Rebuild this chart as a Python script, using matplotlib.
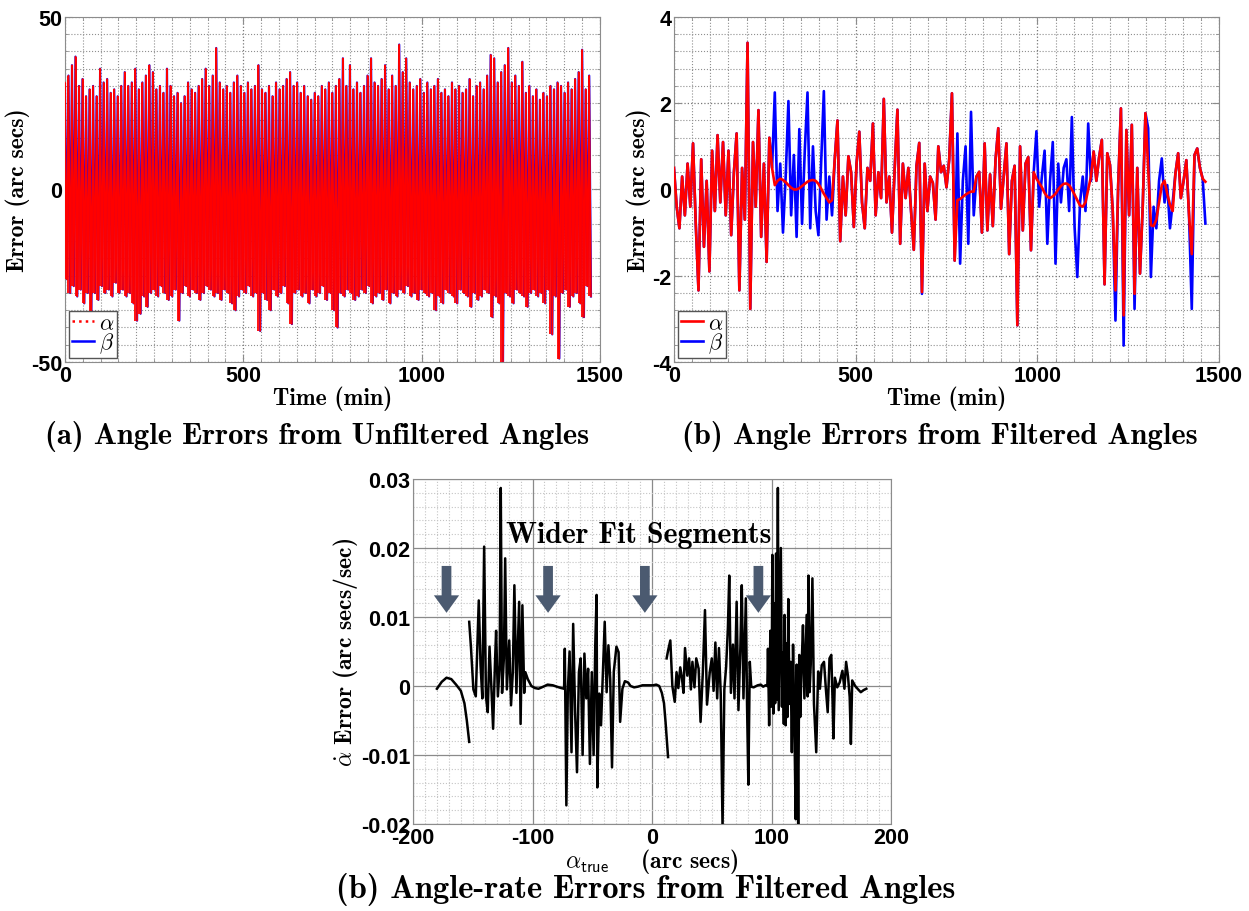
import numpy as np
import matplotlib
matplotlib.use("Agg")
import matplotlib.pyplot as plt
from matplotlib.ticker import MultipleLocator
from matplotlib.lines import Line2D

# ─────────────────────────────────────────────
# 1. data
# ─────────────────────────────────────────────
# (a) unfiltered angle errors : upper / lower swing of the noise band (arc secs)
a_hi = [31, 33, 36, 38.5, 30, 32, 27, 29, 30, 27, 35, 31, 32, 28, 29, 27, 30, 34, 30, 31,
        35, 29, 31, 33, 36, 34, 29, 30, 28, 35, 30, 27, 28, 25, 27, 31, 29, 28, 30, 32,
        35, 30, 33, 41, 31, 29, 30, 28, 31, 33, 30, 28, 31, 29, 30, 36, 29, 28, 30, 27,
        31, 29, 30, 32, 34, 30, 31, 28, 30, 27, 26, 28, 27, 30, 29, 31, 28, 30, 32, 38,
        30, 36, 29, 31, 28, 30, 33, 38, 31, 30, 32, 36, 29, 33, 30, 42, 34, 38, 31, 29,
        30, 32, 28, 31, 29, 30, 32, 28, 29, 27, 31, 29, 30, 28, 29, 32, 27, 30, 31, 29,
        33, 39, 38, 31, 34, 36, 41, 31, 33, 30, 37, 28, 30, 27, 29, 26, 28, 27, 30, 29,
        31, 30, 28, 31, 29, 32, 34, 40.5, 29, 33]
a_lo = [-26, -30, -28, -31, -29, -33, -30, -36, -30, -32, -28, -30, -29, -31, -27, -30, -29, -31, -30, -33,
        -38, -36, -31, -34, -30, -29, -31, -28, -30, -32, -31, -29, -38, -30, -28, -31, -29, -30, -32, -30,
        -28, -29, -31, -30, -32, -29, -30, -33, -35, -31, -29, -30, -28, -31, -30, -41, -30, -32, -35, -29,
        -31, -30, -28, -33, -39, -30, -29, -31, -30, -33, -29, -31, -30, -28, -32, -30, -35, -40, -30, -31,
        -29, -30, -32, -31, -29, -30, -28, -33, -31, -30, -32, -29, -33, -30, -31, -29, -30, -28, -31, -30,
        -32, -29, -30, -31, -30, -35, -31, -33, -29, -30, -31, -33, -29, -30, -31, -34, -30, -32, -31, -29,
        -30, -37, -31, -33, -50, -30, -31, -33, -29, -30, -31, -34, -30, -29, -31, -30, -33, -29, -42, -31,
        -49, -30, -29, -34, -31, -30, -33, -37, -28, -31]
# beta errors sit right on top of alpha in the unfiltered case
b_hi = a_hi
b_lo = a_lo

# (b) filtered angle errors, sampled every 7.5 min (arc secs)
alpha_f = [0.5, -0.4, -0.9, 0.3, -0.6, 0.6, -0.4, 1.07, -0.8, -2.34,
           0.7, -1.33, 0.2, -1.9, 0.9, -0.5, 1.26, -0.3, 1.1, -0.6,
           0.9, -1.06, 0.4, 1.3, -2.34, 0.5, -0.7, 3.4, -2.77, 1.1,
           -0.4, 1.84, -1.1, 0.6, -1.68, 1.2, 0.5, 0.1, 0.2, 0.25,
           0.22, 0.17, 0.1, 0.04, 0.0, 0.0, 0.03, 0.08, 0.13, 0.18,
           0.21, 0.22, 0.2, 0.13, 0.02, -0.1, -0.2, -0.3, -0.25, 0.7,
           1.6, -1.2, 0.3, -0.6, 0.77, 0.4, -0.87, 0.6, 1.34, -0.3,
           -0.9, 0.5, 0.2, 1.53, -0.6, 0.4, -0.2, 2.1, -0.3, 0.3,
           -1.0, 0.5, 1.85, -1.26, 0.6, -0.2, 0.5, -0.5, -1.4, 0.55,
           1.08, -2.38, 0.6, -0.5, 0.3, 0.15, -0.7, 1.0, 0.4, 0.55,
           0.05, 0.7, 2.23, -1.65, -0.25, -0.22, -0.17, -0.12, -0.08, -0.05,
           -0.05, 0.3, 0.41, -1.0, 1.07, -0.95, 0.35, -0.85, 0.7, 1.42,
           -0.45, 0.3, 1.07, -1.5, 0.2, 0.55, -3.15, 1.0, -0.95, 0.6,
           0.75, -1.41, 0.4, 0.25, 0.15, 0.05, -0.08, -0.17, -0.2, -0.16,
           -0.1, 0.0, 0.08, 0.13, 0.14, 0.1, 0.0, -0.12, -0.25, -0.37,
           -0.4, -0.3, 0.0, 0.3, 0.88, 0.2, 0.75, 1.15, -2.2, 0.84,
           0.57, -0.5, -2.34, 0.1, 1.88, -2.92, 1.38, -0.6, 1.5, -2.42,
           0.5, -1.95, -0.4, 1.77, 0.5, -0.83, -0.85, -0.7, -0.3, 0.1,
           0.2, -0.1, -0.35, -0.5, 0.37, 0.84, -0.2, 0.2, 0.68, -0.6,
           -1.5, 0.8, 0.95, 0.5, 0.25, 0.18]
beta_f = [0.5, -0.4, -0.9, 0.3, -0.6, 0.6, -0.4, 1.07, -0.8, -2.34,
          0.7, -1.33, 0.2, -1.9, 0.9, -0.5, 1.26, -0.3, 1.1, -0.6,
          0.9, -1.06, 0.4, 1.3, -2.34, 0.5, -0.7, 3.4, -2.77, 1.1,
          -0.4, 1.84, -1.1, 0.6, -1.68, 1.2, 0.5, 2.25, -0.5, 0.6,
          -1.0, 0.3, 2.05, -0.6, 0.8, -1.1, 1.4, -0.8, 0.9, 2.25,
          -0.9, 1.0, -0.5, -1.06, 0.6, 2.28, -0.7, 0.3, -0.6, 0.7,
          1.6, -1.2, 0.3, -0.6, 0.77, 0.4, -0.87, 0.6, 1.34, -0.3,
          -0.9, 0.5, 0.2, 1.53, -0.6, 0.4, -0.2, 2.1, -0.3, 0.3,
          -1.0, 0.5, 1.85, -1.26, 0.6, -0.2, 0.5, -0.5, -1.4, 0.55,
          1.08, -2.42, 0.6, -0.5, 0.3, 0.15, -0.7, 1.0, 0.4, 0.55,
          0.05, 0.7, 2.23, -1.65, 1.3, -1.72, 0.2, 1.0, -1.26, 1.8,
          -0.6, 0.3, 0.41, -1.0, 1.07, -0.95, 0.35, -0.85, 0.7, 1.42,
          -0.45, 0.3, 1.07, -1.5, 0.2, 0.55, -3.15, 1.0, -0.95, 0.6,
          0.75, -1.41, 0.4, 1.35, -0.4, 0.3, 0.9, -1.26, 0.2, 1.1,
          -1.72, 0.6, -0.3, 0.5, 0.7, -0.5, 1.68, -0.87, -2.03, -0.3,
          0.3, -0.5, 1.53, 0.2, 0.88, 0.2, 0.75, 1.15, -2.2, 0.84,
          0.57, -0.5, -3.04, 0.1, 1.88, -3.62, 1.38, -0.6, 1.5, -2.77,
          0.5, -1.95, -0.4, 1.77, 1.42, -2.03, -0.4, -0.9, 0.2, 0.72,
          -0.3, 0.1, -0.9, -0.3, 0.37, 0.84, -0.2, 0.2, 0.68, -0.6,
          -2.77, 0.8, 0.95, 0.5, 0.25, -0.79]

# (c) angle-rate error vs true alpha (nan = gap between fit segments)
c_x = [-180, -176, -172, -168, -164, -160, -157, -155, -153, np.nan,
       -153, -151.5, -149.5, -147.5, -145, -143.5, -142, -140.5, -139, -137.5,
       -136, -134.5, -133, -131.5, -130.5, -129, -127.5, -126.6, -125.5, -124,
       -122.9, -121.5, -119.5, -118, -116.5, -115.2, -113.5, -111.2, -110, -108.5,
       -107, -106, -104, -101, -98, -95, -91, -87.4, -83, -79.7,
       -76, -73.6, -73, -71.7, -70.5, -69, -67.4, -66, -64.4, -62.8,
       -61.2, -59.7, -58.1, -56.6, -55, -53.5, -52, -50.4, -48.9, -47.5,
       -46.4, -45.8, -44.2, -42.7, -41.2, -39.6, -38, -36.5, -35, -33.5,
       -32, -29.8, -28, -26.7, -24.8, -22.7, -20, -18, -15, -11.9,
       -8, -5.7, -2, 1, 3.5, 6, 8.2, 10, 11.3, 12.5,
       13.4, np.nan,
       12.2, 13.5, 15.3, 17, 19, 20.5, 22, 23.6, 25, 26.3,
       27.6, 29.5, 31, 32.5, 33.8, 35.5, 37, 39, 40.6, 42.5,
       44.3, 46, 48.3, 50, 51.5, 53, 54.5, 56, 57.5, 59,
       60.5, 62, 63.5, 64.6, 66, 67.7, 69, 70.8, 72.3, 73.9,
       75.1, 76.5, 78.5, 79.5, 80.6, 81.8, 83, 85, 88.4, 91,
       93, 95, 96.5, 97, 98, 99, 100, 100.7, 101.5, 102.3,
       103, 103.8, 104.5, 105.3, 106, 107, 107.8, 108.7, 109.5, 110.3,
       110.9, 111.8, 112.5, 113.3, 114, 115, 116, 117, 118, 119,
       120.2, 121, 121.6, 122.3, 123.2, 124, 125, 126.3, 127.5, 128.5,
       129.4, 130.2, 130.9, 131.8, 132.8, 134.2, 135.5, 137.4, 139, 140.5,
       142, 143.9, 145.5, 147, 148.5, 150, 151, 151.8, 153, 155,
       157, 159.3, 161, 162.4, 164, 165.4, 166.4, 167.5, 170, 172.5,
       174.7, 177, 179.3]
c_y = [-0.0004, 0.0006, 0.0012, 0.001, 0.0002, -0.0007, -0.0025, -0.005, -0.0081, np.nan,
       0.0093, 0.0055, -0.0005, -0.0015, 0.0124, 0.003, -0.0018, 0.0202, -0.0015, -0.0038,
       0.0057, 0.0, -0.0062, 0.003, 0.008, -0.0015, 0.003, 0.0287, -0.001, 0.004,
       0.0185, -0.0005, 0.0066, -0.0028, 0.002, 0.0146, -0.001, 0.0122, -0.0055, 0.0117,
       -0.001, 0.002, 0.001, 0.0, -0.0003, -0.0004, -0.0001, 0.0002, 0.0001, -0.0001,
       -0.0003, -0.0004, 0.0054, -0.0173, -0.0008, 0.005, -0.0096, 0.009, -0.0037, -0.0125,
       0.002, 0.004, -0.010, 0.0047, -0.0018, 0.0025, -0.0113, 0.002, -0.010, 0.006,
       0.0132, -0.0147, -0.0011, -0.0057, 0.0015, 0.0093, -0.0009, 0.0059, 0.001, -0.0118,
       0.0021, 0.0057, 0.0049, -0.0052, -0.0004, 0.0007, 0.0005, 0.0, -0.0002, -0.0001,
       0.0001, 0.0001, 0.0001, 0.0001, 0.0002, 0.0, -0.001, -0.0025, -0.0052, -0.008,
       -0.0103, np.nan,
       0.004, 0.0052, 0.0066, 0.0, -0.0023, 0.002, -0.0003, 0.0027, 0.0012, -0.001,
       0.0055, 0.0015, 0.004, -0.0005, 0.0035, -0.0002, 0.004, 0.0025, -0.0052, 0.002,
       0.011, -0.0027, 0.002, 0.004, -0.0007, 0.0063, -0.0018, 0.0055, -0.0012, -0.0205,
       -0.0005, 0.0028, 0.0085, 0.016, -0.001, 0.006, -0.0018, 0.0122, -0.0035, 0.0055,
       0.0146, -0.0018, 0.0127, -0.0027, -0.0143, 0.0035, -0.0001, -0.0002, 0.0001, 0.0002,
       -0.0001, 0.0001, 0.0, 0.0054, -0.0057, 0.008, -0.003, 0.019, -0.004, 0.012,
       -0.0025, 0.0192, -0.002, 0.0287, -0.0035, 0.0098, 0.020, -0.003, 0.0048, -0.0055,
       0.0103, -0.0057, 0.0062, -0.0045, 0.0126, -0.0026, 0.0035, -0.0096, 0.006, -0.004,
       -0.0193, 0.0031, -0.005, -0.020, 0.0045, -0.0045, 0.002, 0.0088, -0.0018, 0.0045,
       0.0103, -0.0015, 0.016, -0.0009, 0.0031, 0.0156, -0.0026, -0.0096, 0.0021, -0.0004,
       0.003, 0.0035, -0.0005, -0.0038, 0.004, 0.0045, -0.0017, -0.0076, 0.0012, -0.0002,
       0.0005, 0.0022, -0.0004, 0.0035, 0.0014, -0.0016, -0.0084, 0.0008, 0.0, -0.0005,
       -0.0009, -0.0006, -0.0004]

arrow_x = [-172, -87, -6, 89]   # "wider fit segment" markers

# ─────────────────────────────────────────────
# 2. style
# ─────────────────────────────────────────────
plt.rcParams['mathtext.fontset'] = 'cm'
plt.rcParams['axes.unicode_minus'] = False
TICK_FONT = dict(family='Liberation Sans', weight='bold', size=15.5)
LABEL_FONT = dict(family='cmb10', size=17)
CAP_FONT = dict(family='cmb10', size=22)
SPINE = '#8c8c8c'


def style_axes(ax, xmin, ymin, major_solid=False):
    ax.xaxis.set_minor_locator(MultipleLocator(xmin))
    ax.yaxis.set_minor_locator(MultipleLocator(ymin))
    if major_solid:
        ax.grid(True, which='major', color='#8a8a8a', linestyle='-', linewidth=0.9)
        ax.grid(True, which='minor', color='#c4c4c4', linestyle=':', linewidth=0.8)
    else:
        ax.grid(True, which='major', color='#777777', linestyle=':', linewidth=0.9)
        ax.grid(True, which='minor', color='#8f8f8f', linestyle=':', linewidth=0.8)
    ax.set_axisbelow(True)
    ax.tick_params(which='both', direction='in', top=True, right=True, color=SPINE)
    ax.tick_params(which='major', length=5, pad=2)
    ax.tick_params(which='minor', length=2.5)
    for s in ax.spines.values():
        s.set_color(SPINE)
    for lab in ax.get_xticklabels() + ax.get_yticklabels():
        lab.set_fontproperties(matplotlib.font_manager.FontProperties(**TICK_FONT))


def add_legend(ax, handles, labels):
    leg = ax.legend(handles, labels, loc='lower left', fontsize=16,
                    fancybox=False, framealpha=1, edgecolor='#555555',
                    borderaxespad=0.2, borderpad=0.1, labelspacing=-0.1,
                    handlelength=1.0, handletextpad=0.25)
    leg.get_frame().set_linewidth(1.0)


fig = plt.figure(figsize=(12.49, 9.12), dpi=100)
ax1 = fig.add_axes([0.0520, 0.6020, 0.4283, 0.3783])
ax2 = fig.add_axes([0.5396, 0.6020, 0.4364, 0.3783])
ax3 = fig.add_axes([0.3307, 0.0954, 0.3827, 0.3783])

# ─────────────────────────────────────────────
# 3. (a) unfiltered angles
#    each sample swings from its upper to lower value; draw the swing as a
#    stroke plus the zig-zag trace between samples so the band reads as solid
# ─────────────────────────────────────────────
t_a = np.linspace(0, 1470, len(a_hi))
dt = t_a[1] - t_a[0]
tz = np.column_stack([t_a, t_a + dt / 2]).ravel()
az = np.column_stack([a_hi, a_lo]).ravel()
bz = np.column_stack([b_hi, b_lo]).ravel()

ax1.plot(tz, bz, color='blue', linewidth=1.6, zorder=2)
ax1.vlines(t_a, a_lo, a_hi, color='red', linewidth=1.3, zorder=3)
ax1.plot(tz, az, color='red', linewidth=1.2, zorder=3)
ax1.set_xlim(0, 1500)
ax1.set_ylim(-50, 50)
ax1.set_xticks([0, 500, 1000, 1500])
ax1.set_yticks([-50, 0, 50])
style_axes(ax1, 50, 5)
ax1.set_xlabel('Time (min)', labelpad=0, **LABEL_FONT)
ax1.set_ylabel('Error (arc secs)', labelpad=1, **LABEL_FONT)
add_legend(ax1,
           [Line2D([], [], color='red', linestyle=':', linewidth=1.8),
            Line2D([], [], color='blue', linewidth=1.8)],
           [r'$\alpha$', r'$\beta$'])

# ─────────────────────────────────────────────
# 4. (b) filtered angles
# ─────────────────────────────────────────────
t_f = np.arange(len(alpha_f)) * 7.5
lb2, = ax2.plot(t_f, beta_f, color='blue', linewidth=1.9, zorder=2)
la2, = ax2.plot(t_f, alpha_f, color='red', linewidth=1.9, zorder=3)
ax2.set_xlim(0, 1500)
ax2.set_ylim(-4, 4)
ax2.set_xticks([0, 500, 1000, 1500])
ax2.set_yticks([-4, -2, 0, 2, 4])
style_axes(ax2, 50, 0.4)
ax2.set_xlabel('Time (min)', labelpad=0, **LABEL_FONT)
ax2.set_ylabel('Error (arc secs)', labelpad=1, **LABEL_FONT)
add_legend(ax2, [la2, lb2], [r'$\alpha$', r'$\beta$'])

# ─────────────────────────────────────────────
# 5. (c) angle-rate errors
# ─────────────────────────────────────────────
ax3.plot(c_x, c_y, color='black', linewidth=1.8, zorder=3)
ax3.set_xlim(-200, 200)
ax3.set_ylim(-0.02, 0.03)
ax3.set_xticks([-200, -100, 0, 100, 200])
ax3.set_yticks([-0.02, -0.01, 0, 0.01, 0.02, 0.03])
ax3.set_yticklabels(['-0.02', '-0.01', '0', '0.01', '0.02', '0.03'])
style_axes(ax3, 10, 0.002, major_solid=True)
ax3.tick_params(which='both', length=0)
ax3.set_xlabel(r'$\alpha_{\mathsf{true}}$    (arc secs)', labelpad=-1, **LABEL_FONT)
ax3.set_ylabel(r'$\dot{\alpha}$ Error (arc secs/sec)', labelpad=1, **LABEL_FONT)

for x in arrow_x:
    ax3.annotate('', xy=(x, 0.0102), xytext=(x, 0.0178),
                 arrowprops=dict(arrowstyle='simple,head_length=0.9,head_width=1.3,tail_width=0.5',
                                 mutation_scale=14, fc='#4b5a70', ec='none'),
                 zorder=4)
ax3.text(-11, 0.0219, 'Wider Fit Segments', ha='center', va='center',
         family='cmb10', size=21.5, zorder=5)

# ─────────────────────────────────────────────
# 6. sub-captions
# ─────────────────────────────────────────────
fig.text(317 / 1249, 1 - 436 / 912, '(a) Angle Errors from Unfiltered Angles',
         ha='center', va='center', **CAP_FONT)
fig.text(940 / 1249, 1 - 436 / 912, '(b) Angle Errors from Filtered Angles',
         ha='center', va='center', **CAP_FONT)
fig.text(646 / 1249, 1 - 890 / 912, '(b) Angle-rate Errors from Filtered Angles',
         ha='center', va='center', family='cmb10', size=23.5)

fig.savefig('out.png', dpi=100)
